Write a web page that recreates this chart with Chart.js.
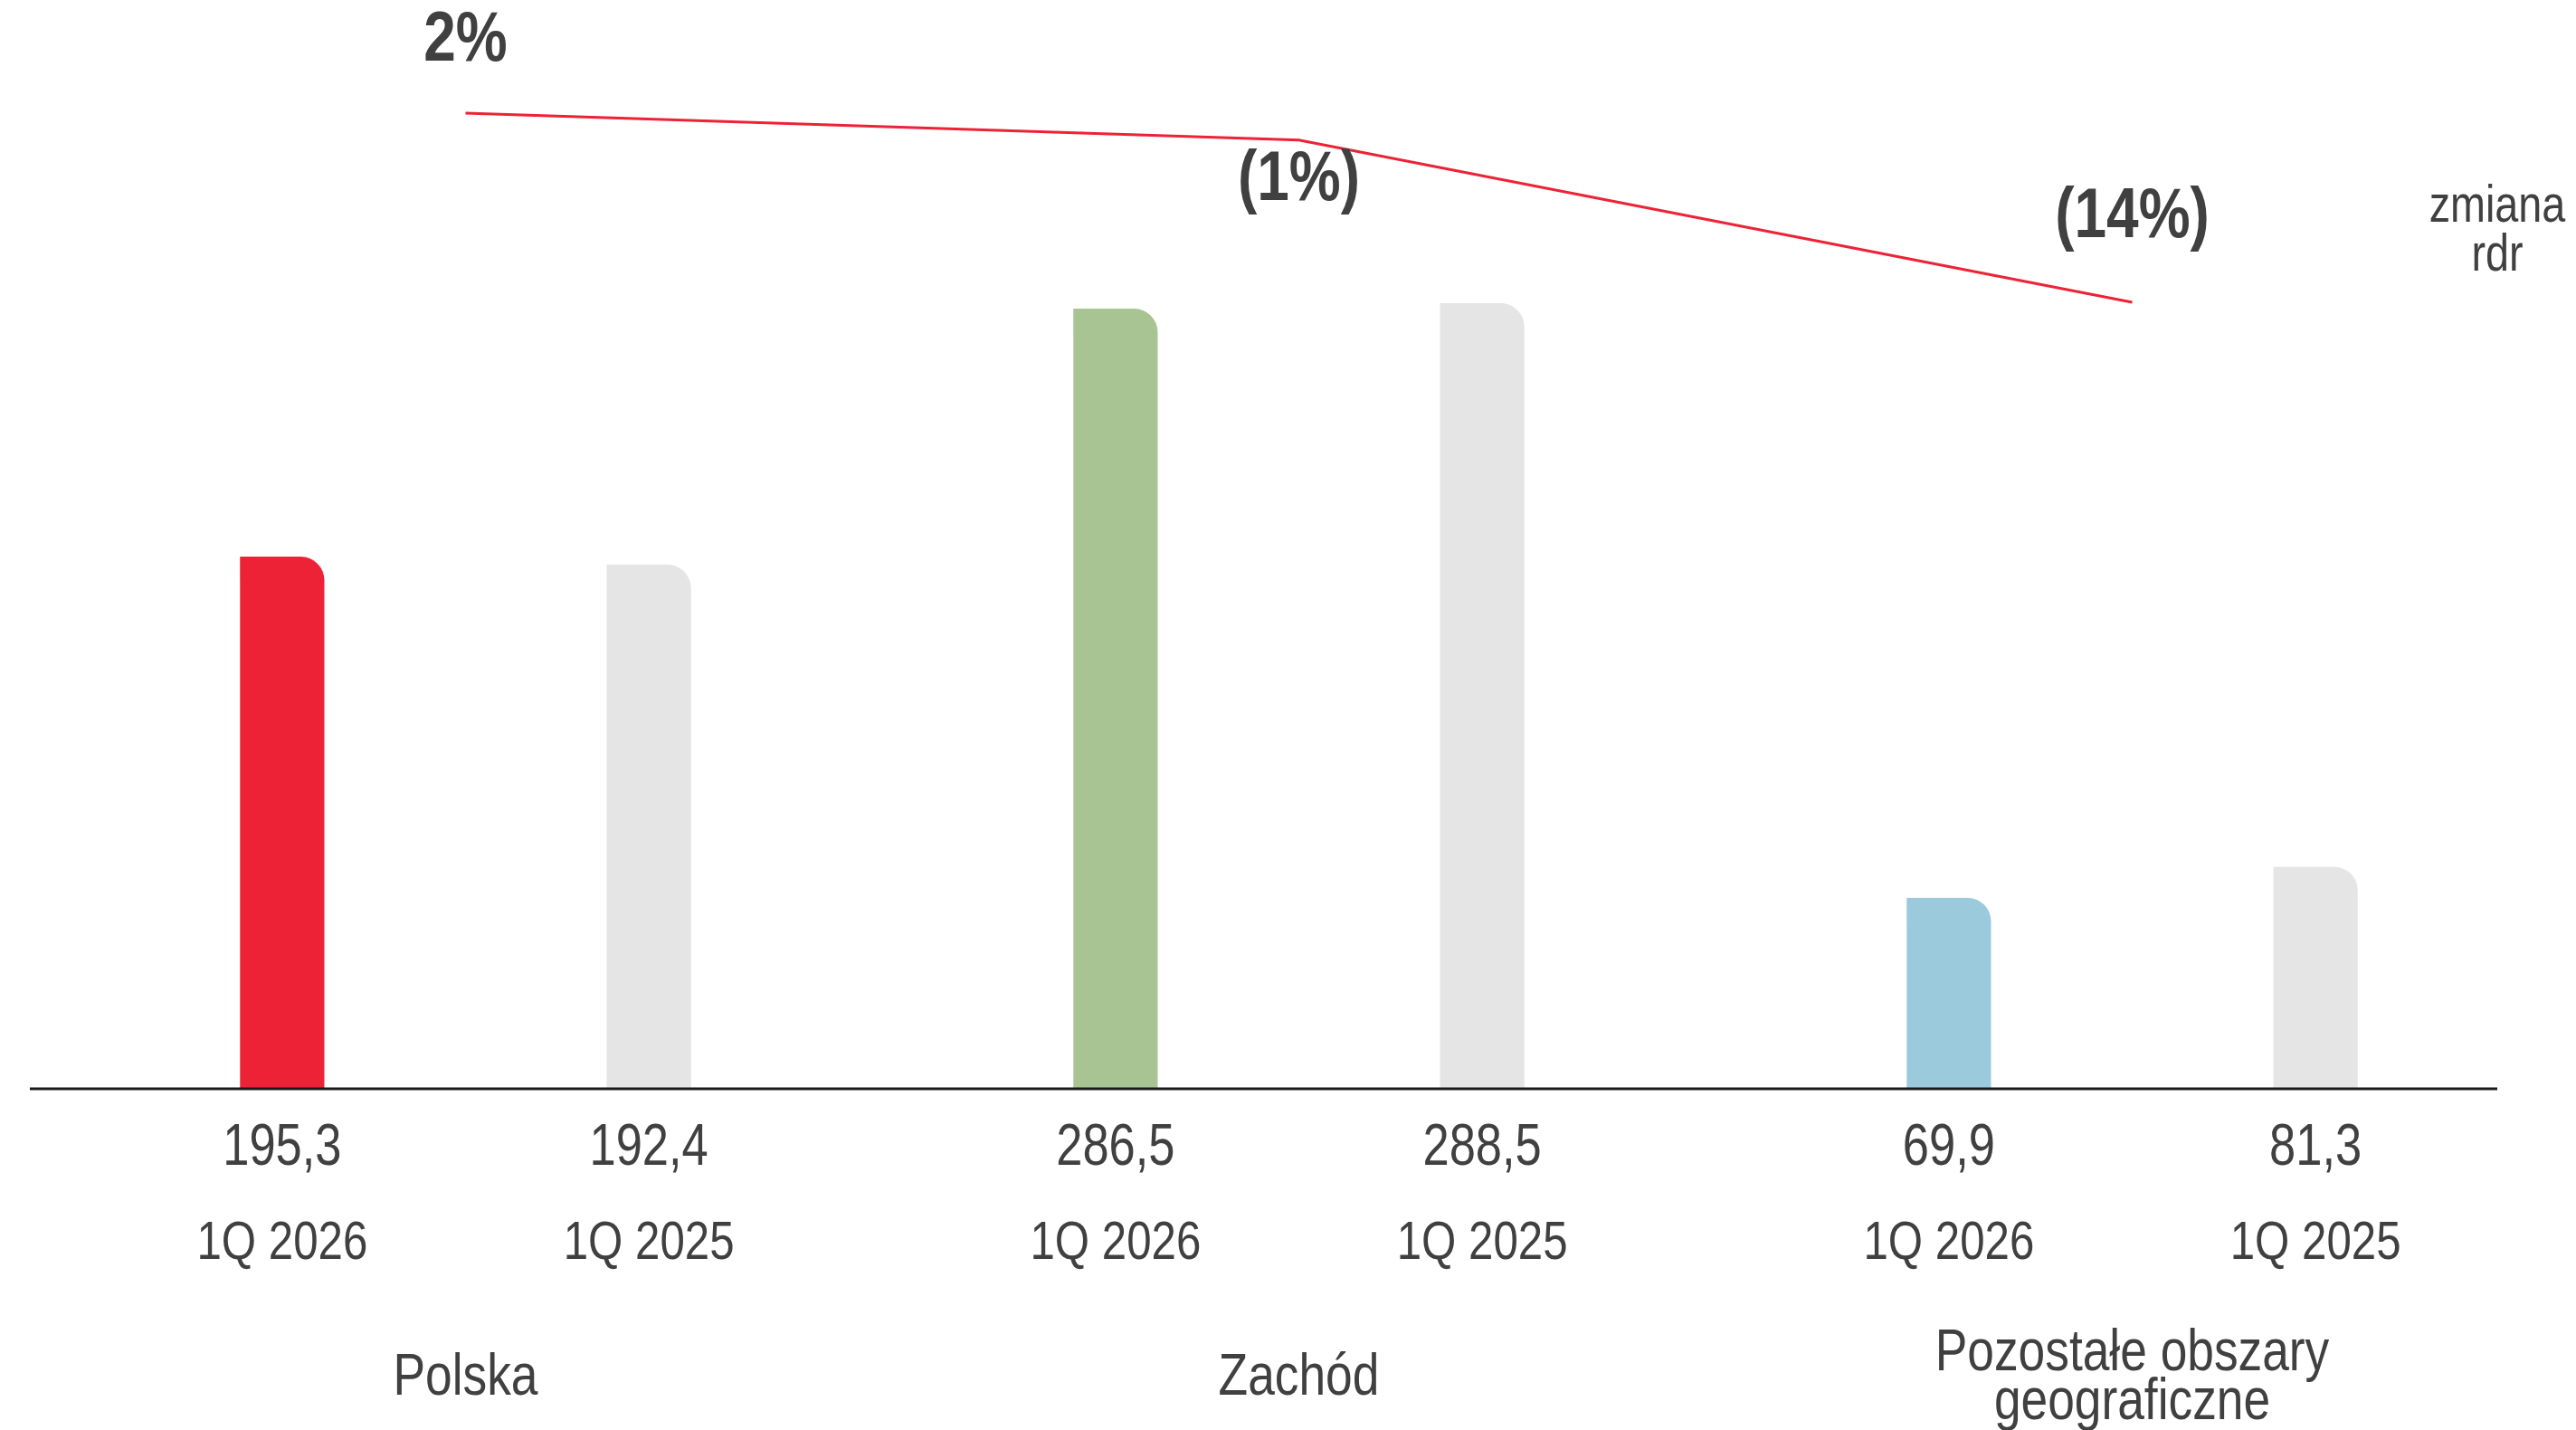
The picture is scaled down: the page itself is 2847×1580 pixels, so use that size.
<!DOCTYPE html>
<html><head><meta charset="utf-8">
<script src="https://cdn.jsdelivr.net/npm/chart.js@4.4.1/dist/chart.umd.min.js"></script>
<style>html,body{margin:0;padding:0;background:#fff;overflow:hidden}#wrap{width:2847px;height:1580px;position:relative}</style>
</head><body><div id="wrap"><canvas id="c" width="2847" height="1580"></canvas></div>
<script>
const groups = ['Polska', 'Zachód', ['Pozostałe obszary', 'geograficzne']];
const periods = ['1Q 2026', '1Q 2025'];
const values2026 = [195.3, 286.5, 69.9];
const values2025 = [192.4, 288.5, 81.3];
const yoyChange = [1.5, -0.7, -14.0];
const yoyLabels = ['2%', '(1%)', '(14%)'];
const sideLabel = ['zmiana', 'rdr'];

const colors2026 = ['#ED2236', '#A9C493', '#9BCADC'];
const color2025 = '#E5E5E5';
const lineColor = '#ED2236';
const textColor = '#404040';

function hasFont(name) {
  const c = document.createElement('canvas').getContext('2d');
  const s = 'abcdefghijklmnopQRS 0123456789';
  c.font = '72px monospace'; const w1 = c.measureText(s).width;
  c.font = '72px "' + name + '", monospace'; const w2 = c.measureText(s).width;
  return Math.abs(w1 - w2) > 0.5;
}
const NARROW = hasFont('Liberation Sans Narrow');

function drawText(ctx, text, x, y, size, weight) {
  ctx.save();
  ctx.fillStyle = textColor;
  ctx.textAlign = 'center';
  ctx.textBaseline = 'middle';
  if (NARROW) {
    ctx.font = weight + ' ' + size + 'px "Liberation Sans Narrow", sans-serif';
    ctx.fillText(text, x, y);
  } else {
    ctx.translate(x, y);
    ctx.scale(0.82, 1);
    ctx.font = weight + ' ' + size + 'px "Liberation Sans", Arial, sans-serif';
    ctx.fillText(text, 0, 0);
  }
  ctx.restore();
}
const fmt = v => v.toFixed(1).replace('.', ',');

const labelPlugin = {
  id: 'labels',
  afterDatasetsDraw(chart) {
    const ctx = chart.ctx;
    const a = chart.chartArea;
    // axis line
    ctx.save();
    ctx.strokeStyle = '#1a1a1a';
    ctx.lineWidth = 3;
    ctx.beginPath();
    ctx.moveTo(a.left - 21, a.bottom + 1);
    ctx.lineTo(a.right - 57, a.bottom + 1);
    ctx.stroke();
    ctx.restore();
    // per-bar labels
    [0, 1].forEach(di => {
      const meta = chart.getDatasetMeta(di);
      const vals = chart.data.datasets[di].data;
      meta.data.forEach((bar, i) => {
        drawText(ctx, fmt(vals[i]), bar.x, a.bottom + 67, 64, 'normal');
        drawText(ctx, periods[di], bar.x, a.bottom + 172, 60, 'normal');
      });
    });
    // group labels
    const xs = chart.scales.x;
    groups.forEach((g, i) => {
      const x = xs.getPixelForValue(i);
      const lines = Array.isArray(g) ? g : [g];
      const lh = 54;
      const y0 = a.bottom + 321 - (lines.length - 1) * lh / 2;
      lines.forEach((t, k) => drawText(ctx, t, x, y0 + k * lh, 65, 'normal'));
    });
    // yoy labels
    const lm = chart.getDatasetMeta(2);
    const offs = [-80, 45, -94];
    lm.data.forEach((p, i) => {
      drawText(ctx, yoyLabels[i], p.x, p.y + offs[i], 78, 'bold');
    });
    // side label
    drawText(ctx, sideLabel[0], a.right - 57, 229, 57, 'normal');
    drawText(ctx, sideLabel[1], a.right - 57, 283, 57, 'normal');
  }
};

new Chart(document.getElementById('c'), {
  data: {
    labels: groups,
    datasets: [
      {
        type: 'bar', label: periods[0], data: values2026,
        backgroundColor: colors2026,
        borderRadius: { topLeft: 0, topRight: 26, bottomLeft: 0, bottomRight: 0 },
        borderSkipped: false,
        categoryPercentage: 0.88, barPercentage: 0.23,
        yAxisID: 'y', order: 2
      },
      {
        type: 'bar', label: periods[1], data: values2025,
        backgroundColor: color2025,
        borderRadius: { topLeft: 0, topRight: 26, bottomLeft: 0, bottomRight: 0 },
        borderSkipped: false,
        categoryPercentage: 0.88, barPercentage: 0.23,
        yAxisID: 'y', order: 2
      },
      {
        type: 'line', label: 'zmiana rdr', data: yoyChange,
        borderColor: lineColor, borderWidth: 3, pointRadius: 0,
        tension: 0, fill: false, yAxisID: 'y2', order: 1
      }
    ]
  },
  options: {
    responsive: false,
    devicePixelRatio: 1,
    animation: false,
    layout: { padding: { left: 54, right: 30, top: 0, bottom: 378 } },
    plugins: { legend: { display: false }, tooltip: { enabled: false } },
    scales: {
      x: { display: false, offset: true },
      y: { display: false, min: 0, max: 400 },
      y2: { display: false, min: -78.37, max: 10.77 }
    }
  },
  plugins: [labelPlugin]
});
</script>
</body></html>
